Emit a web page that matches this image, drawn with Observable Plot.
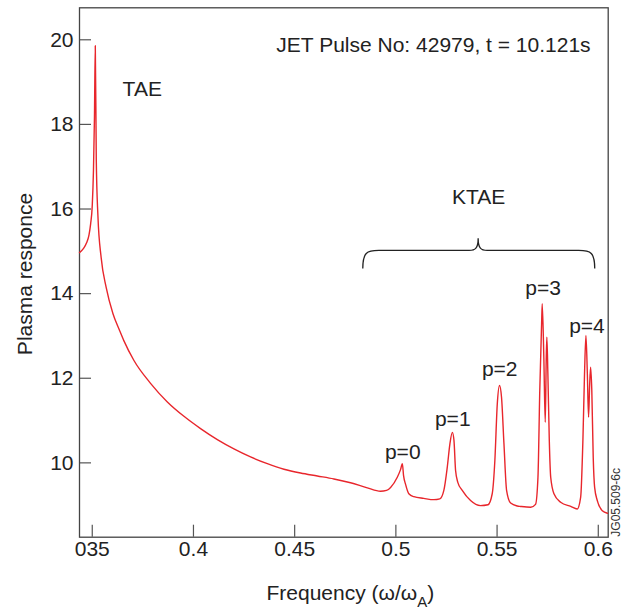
<!DOCTYPE html>
<html>
<head>
<meta charset="utf-8">
<script src="https://cdn.jsdelivr.net/npm/d3@7"></script>
<script src="https://cdn.jsdelivr.net/npm/@observablehq/plot@0.6"></script>
<style>
  html, body { margin: 0; padding: 0; background: #fff; }
</style>
</head>
<body>
<div id="chart"></div>
<script>
// ---- data ----
const freq = [
  0.3437, 0.3457, 0.3472, 0.3484, 0.3492, 0.3500, 0.3506, 0.3511, 0.3515, 0.3520,
  0.3528, 0.3544, 0.3569, 0.3602, 0.3635, 0.3656, 0.3706, 0.3788, 0.3871, 0.3953,
  0.4035, 0.4118, 0.4200, 0.4282, 0.4365, 0.4447, 0.4529, 0.4612, 0.4694, 0.4776,
  0.4859, 0.4924, 0.4954, 0.4974, 0.5007, 0.5023, 0.5032, 0.5038, 0.5048, 0.5064,
  0.5089, 0.5138, 0.5188, 0.5217, 0.5237, 0.5254, 0.5267, 0.5279, 0.5287, 0.5295,
  0.5306, 0.5328, 0.5369, 0.5418, 0.5455, 0.5476, 0.5489, 0.5501, 0.5512, 0.5522,
  0.5534, 0.5547, 0.5567, 0.5600, 0.5616, 0.5666, 0.5690, 0.5702, 0.5711, 0.5720,
  0.5723, 0.5731, 0.5738, 0.5743, 0.5746, 0.5751, 0.5758, 0.5765, 0.5781, 0.5814,
  0.5864, 0.5896, 0.5913, 0.5924, 0.5932, 0.5939, 0.5946, 0.5952, 0.5957, 0.5962,
  0.5968, 0.5975, 0.5982, 0.5995, 0.6020, 0.6045
];
const response = [
  14.97, 15.07, 15.20, 15.39, 15.65, 16.08, 16.91, 18.20, 19.86, 17.14,
  15.84, 14.85, 14.14, 13.53, 13.13, 12.89, 12.42, 11.88, 11.44, 11.10,
  10.81, 10.55, 10.33, 10.14, 9.98, 9.85, 9.76, 9.69, 9.62, 9.53,
  9.41, 9.33, 9.35, 9.42, 9.66, 9.84, 9.98, 9.70, 9.49, 9.27,
  9.20, 9.16, 9.13, 9.15, 9.35, 9.90, 10.45, 10.72, 10.53, 9.82,
  9.54, 9.35, 9.11, 8.99, 9.01, 9.27, 10.05, 11.39, 11.83, 11.55,
  10.45, 9.35, 9.05, 8.98, 8.97, 8.95, 9.02, 9.66, 11.71, 13.28,
  13.76, 12.49, 10.96, 12.49, 12.97, 12.10, 10.53, 9.66, 9.27, 9.07,
  8.97, 8.91, 9.19, 10.53, 12.10, 13.01, 12.10, 11.08, 11.79, 12.26,
  11.71, 10.13, 9.42, 9.11, 8.87, 8.81
];

const xDomain = [0.3437, 0.6049];
const yDomain = [8.243, 20.756];
const xTicks = [0.35, 0.4, 0.45, 0.5, 0.55, 0.6];
const xTickLabels = ["035", "0.4", "0.45", "0.5", "0.55", "0.6"];
const yTicks = [10, 12, 14, 16, 18, 20];

const peakLabels = ["p=0", "p=1", "p=2", "p=3", "p=4"];
const peakLabelX = [0.5034, 0.5281, 0.5513, 0.5727, 0.5944];
const peakLabelY = [10.26, 11.04, 12.22, 14.13, 13.24];

const modeLabels = ["TAE", "KTAE"];
const modeLabelX = [0.3747, 0.5409];
const modeLabelY = [18.82, 16.28];

const titleText = ["JET Pulse No: 42979, t = 10.121s"];
const titleX = [0.5962];
const titleY = [19.86];

const braceX = [0.4839, 0.5409, 0.5985]; // left end, middle tip, right end
const braceY = [14.58, 15.01, 15.30];    // ends, arms, tip

const xLabelMain = "Frequency (\u03c9/\u03c9";
const xLabelSub = "A";
const xLabelEnd = ")";
const yLabel = "Plasma responce";
const codeLabel = "JG05.509-6c";

// ---- styling ----
const FONT = "'Liberation Sans', Arial, Helvetica, sans-serif";
const INK = "#222";
const RED = "#e8262c";

const curve = freq.map((f, i) => ({f, r: response[i]}));
const peaks = peakLabels.map((t, i) => ({t, x: peakLabelX[i], y: peakLabelY[i]}));
const modes = modeLabels.map((t, i) => ({t, x: modeLabelX[i], y: modeLabelY[i]}));
const titles = titleText.map((t, i) => ({t, x: titleX[i], y: titleY[i]}));

function brace(index, scales) {
  const x = scales.x, y = scales.y;
  const x0 = x(braceX[0]), xm = x(braceX[1]), x1 = x(braceX[2]);
  const yE = y(braceY[0]), yA = y(braceY[1]), yT = y(braceY[2]);
  const r = 16, rm = 9;
  const p = d3.path();
  p.moveTo(x0, yE);
  p.bezierCurveTo(x0, yA + 2, x0 + 4, yA, x0 + r, yA);
  p.lineTo(xm - rm, yA);
  p.bezierCurveTo(xm - 3, yA, xm, yA - 2, xm, yT);
  p.bezierCurveTo(xm, yA - 2, xm + 3, yA, xm + rm, yA);
  p.lineTo(x1 - r, yA);
  p.bezierCurveTo(x1 - 4, yA, x1, yA + 2, x1, yE);
  return d3.create("svg:path")
    .attr("d", p.toString())
    .attr("fill", "none")
    .attr("stroke", INK)
    .attr("stroke-width", 1.3)
    .node();
}

function frameLabels(index, scales, values, dims) {
  const {width, height, marginLeft, marginRight, marginTop, marginBottom} = dims;
  const g = d3.create("svg:g").attr("font-family", FONT).attr("fill", INK);
  const cx = marginLeft + (width - marginLeft - marginRight) / 2 + 7;
  const t = g.append("text")
    .attr("x", cx).attr("y", height - 15)
    .attr("text-anchor", "middle")
    .attr("font-size", 21);
  t.append("tspan").text(xLabelMain);
  t.append("tspan").attr("dy", 7).attr("font-size", 15).text(xLabelSub);
  t.append("tspan").attr("dy", -7).text(xLabelEnd);
  const cy = marginTop + (height - marginTop - marginBottom) / 2 + 2;
  g.append("text")
    .attr("transform", `translate(32,${cy}) rotate(-90)`)
    .attr("text-anchor", "middle")
    .attr("font-size", 21)
    .text(yLabel);
  g.append("text")
    .attr("transform", `translate(${width - 8},${height - marginBottom}) rotate(-90)`)
    .attr("text-anchor", "start")
    .attr("font-size", 12)
    .attr("fill", "#333")
    .text(codeLabel);
  return g.node();
}

const chart = Plot.plot({
  width: 628,
  height: 615,
  marginLeft: 79,
  marginRight: 20.3,
  marginTop: 7.3,
  marginBottom: 78.3,
  style: {fontFamily: FONT, fontSize: "21px", color: INK, background: "#fff"},
  x: {domain: xDomain, ticks: xTicks},
  y: {domain: yDomain, ticks: yTicks},
  marks: [
    // inward tick marks
    Plot.axisX({ticks: xTicks, tickSize: 12, dy: -12, tickFormat: () => "", stroke: "#555", strokeWidth: 1.2, label: null}),
    Plot.axisY({ticks: yTicks, tickSize: 12, dx: 12, tickFormat: () => "", stroke: "#555", strokeWidth: 1.2, label: null}),
    // tick labels
    Plot.axisX({ticks: xTicks, tickSize: 0, tickPadding: 4, tickFormat: (d, i) => xTickLabels[i], fontSize: 21, fill: INK, label: null}),
    Plot.axisY({ticks: yTicks, tickSize: 0, tickPadding: 6, fontSize: 21, fill: INK, label: null}),
    Plot.frame({stroke: "#444", strokeWidth: 1.3}),
    Plot.line(curve, {x: "f", y: "r", stroke: RED, strokeWidth: 1.4, curve: "monotone-x"}),
    Plot.text(peaks, {x: "x", y: "y", text: "t", fontSize: 21, fill: INK}),
    Plot.text(modes, {x: "x", y: "y", text: "t", fontSize: 21, fill: INK}),
    Plot.text(titles, {x: "x", y: "y", text: "t", textAnchor: "end", fontSize: 21, fill: INK}),
    brace,
    frameLabels
  ]
});
document.getElementById("chart").appendChild(chart);
</script>
</body>
</html>
